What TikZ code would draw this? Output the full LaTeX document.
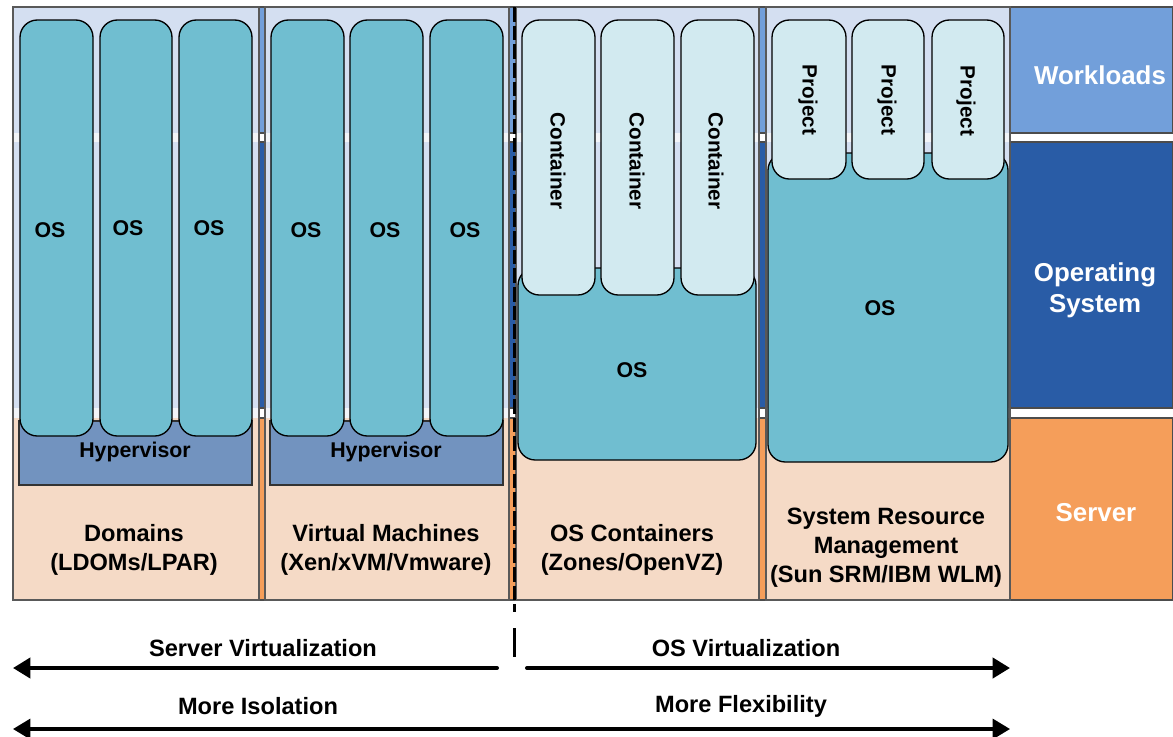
\documentclass[tikz,border=0pt]{standalone}
\usepackage{fontspec}
\setmainfont{Liberation Sans}
\usetikzlibrary{arrows.meta}
\definecolor{wlrow}{HTML}{729FDA}
\definecolor{osrow}{HTML}{295CA6}
\definecolor{srvrow}{HTML}{F59E5A}
\definecolor{osfill}{HTML}{70BED0}
\definecolor{ctfill}{HTML}{D2EAF0}
\definecolor{hypfill}{HTML}{7293BF}
\definecolor{tintb}{HTML}{D4DFF1}
\definecolor{tinto}{HTML}{F5DAC6}
\definecolor{gapc}{HTML}{F2F4F8}
\tikzset{
  rowbox/.style={draw=black!70, line width=0.8pt},
  osbox/.style={draw=black, line width=1pt, fill=osfill, rounded corners=13pt},
  ctbox/.style={draw=black, line width=1pt, fill=ctfill, rounded corners=13pt},
  hypbox/.style={draw=black!80, line width=0.8pt, fill=hypfill},
  lbl/.style={font=\bfseries\fontsize{16}{18}\selectfont, text=black},
  vlbl/.style={font=\bfseries\fontsize{15.5}{18}\selectfont, text=black, rotate=-90},
  ttl/.style={font=\bfseries\fontsize{17.7}{21.75}\selectfont, align=center, text=black},
  rlbl/.style={font=\bfseries\fontsize{19.4}{23}\selectfont, align=center, text=white},
  bigarrow/.style={line width=3pt, -{Triangle[length=13pt,width=15pt]}},
}
\begin{document}
\begin{tikzpicture}[x=0.75pt,y=-0.75pt]
\useasboundingbox (0,0) rectangle (1173,736);
% rows
\draw[rowbox, fill=wlrow] (13,7) rectangle (1173,133);
\draw[rowbox, fill=osrow] (13,142) rectangle (1173,408);
\draw[rowbox, fill=srvrow] (13,418) rectangle (1173,600);
% panels
\foreach \a/\b in {13/259,265/509,516/759,766/1010}{
  \fill[tintb] (\a,7) rectangle (\b,133);
  \fill[gapc] (\a,133) rectangle (\b,142);
  \fill[tintb] (\a,142) rectangle (\b,408);
  \fill[gapc] (\a,408) rectangle (\b,418);
  \fill[tinto] (\a,418) rectangle (\b,600);
  \draw[black!65, line width=0.8pt] (\a,7) rectangle (\b,600);
}
% hypervisors
\draw[hypbox] (19,421) rectangle (252,485);
\node[lbl] (hyp1) at (135,452) {Hypervisor};
\draw[hypbox] (270,421) rectangle (503,485);
\node[lbl] (hyp2) at (386,452) {Hypervisor};
% OS boxes col 1 and 2
\draw[osbox] (20,20) rectangle (93,436);
\draw[osbox] (100,20) rectangle (172,436);
\draw[osbox] (179,20) rectangle (252,436);
\draw[osbox] (271,20) rectangle (344,436);
\draw[osbox] (350,20) rectangle (423,436);
\draw[osbox] (430,20) rectangle (503,436);
\node[lbl] (os1) at (50,230) {OS};
\node[lbl] (os2) at (128,228) {OS};
\node[lbl] (os3) at (209,228) {OS};
\node[lbl] (os4) at (306,230) {OS};
\node[lbl] (os5) at (385,230) {OS};
\node[lbl] (os6) at (465,230) {OS};
% col 3
\draw[osbox] (518,268) rectangle (756,460);
\node[lbl] (os7) at (632,370) {OS};
\draw[ctbox] (522,20) rectangle (595,295);
\draw[ctbox] (601,20) rectangle (674,295);
\draw[ctbox] (681,20) rectangle (754,295);
\node[vlbl] (ct1) at (558,161) {Container};
\node[vlbl] (ct2) at (637,161) {Container};
\node[vlbl] (ct3) at (716,161) {Container};
% col 4
\draw[osbox] (768,153) rectangle (1008,462);
\node[lbl] (os8) at (880,308) {OS};
\draw[ctbox] (772,20) rectangle (846,179);
\draw[ctbox] (852,20) rectangle (924,179);
\draw[ctbox] (932,20) rectangle (1004,179);
\node[vlbl] (pr1) at (808,100) {Project};
\node[vlbl] (pr2) at (887,100) {Project};
\node[vlbl] (pr3) at (966,101) {Project};
% column titles
\node[ttl] (t1) at (134,550) {Domains\\(LDOMs/LPAR)};
\node[ttl] (t2) at (386,550) {Virtual Machines\\(Xen/xVM/Vmware)};
\node[ttl] (t3) at (632,550) {OS Containers\\(Zones/OpenVZ)};
\node[ttl] (t4) at (886,548) {System Resource\\Management\\(Sun SRM/IBM WLM)};
% right labels
\node[rlbl] (rw) at (1100,75) {Workloads};
\node[rlbl] (ro) at (1095,290) {Operating\\System};
\node[rlbl] (rs) at (1096,513) {Server};
% divider
\coordinate (dtop) at (514.5,7);
\coordinate (dmid) at (514.5,612);
\coordinate (dlo) at (514.5,628);
\coordinate (dbot) at (514.5,657);
\draw[black, line width=1.8pt, dash pattern=on 11pt off 3pt] (dtop) -- (dmid);
\draw[black, line width=1.8pt] (dlo) -- (dbot);
% arrows
\coordinate (sva) at (497,668);
\coordinate (svb) at (13,668);
\coordinate (ova) at (527,668);
\coordinate (ovb) at (1010,668);
\coordinate (mia) at (13,729);
\coordinate (mib) at (1010,729);
\draw[bigarrow, line cap=round] (sva) -- (svb);
\draw[bigarrow, line cap=round] (ova) -- (ovb);
\draw[line width=2.4pt, {Triangle[length=13pt,width=15pt]}-{Triangle[length=13pt,width=15pt]}] (mia) -- (mib);
\node[ttl] (sv) at (263,648) {Server Virtualization};
\node[ttl] (ov) at (746,648) {OS Virtualization};
\node[ttl] (mi) at (258,706) {More Isolation};
\node[ttl] (mf) at (741,706) {More Flexibility};
\end{tikzpicture}
\end{document}
